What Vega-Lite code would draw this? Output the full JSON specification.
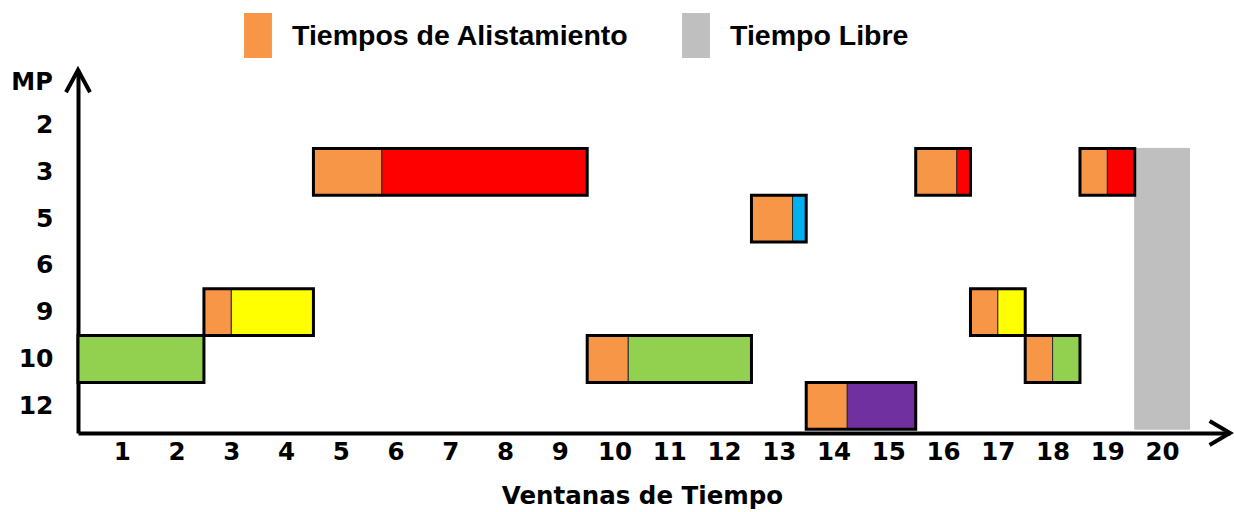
{
  "$schema": "https://vega.github.io/schema/vega-lite/v6.json",
  "autosize": "none",
  "padding": {"left": 78, "top": 70, "right": 4, "bottom": 79},
  "width": 1152,
  "height": 363,
  "background": "white",
  "config": {
    "view": {"stroke": null},
    "axis": {"grid": false}
  },
  "datasets": {
    "tareas": [
      {"tarea": "T1", "mp": "10", "inicio": 0.2, "fin": 2.5, "tipo": "Producto C"},
      {"tarea": "T2", "mp": "9", "inicio": 2.5, "fin": 3.0, "tipo": "Tiempos de Alistamiento"},
      {"tarea": "T2", "mp": "9", "inicio": 3.0, "fin": 4.5, "tipo": "Producto B"},
      {"tarea": "T3", "mp": "3", "inicio": 4.5, "fin": 5.75, "tipo": "Tiempos de Alistamiento"},
      {"tarea": "T3", "mp": "3", "inicio": 5.75, "fin": 9.5, "tipo": "Producto A"},
      {"tarea": "T4", "mp": "10", "inicio": 9.5, "fin": 10.25, "tipo": "Tiempos de Alistamiento"},
      {"tarea": "T4", "mp": "10", "inicio": 10.25, "fin": 12.5, "tipo": "Producto C"},
      {"tarea": "T5", "mp": "5", "inicio": 12.5, "fin": 13.25, "tipo": "Tiempos de Alistamiento"},
      {"tarea": "T5", "mp": "5", "inicio": 13.25, "fin": 13.5, "tipo": "Producto D"},
      {"tarea": "T6", "mp": "12", "inicio": 13.5, "fin": 14.25, "tipo": "Tiempos de Alistamiento"},
      {"tarea": "T6", "mp": "12", "inicio": 14.25, "fin": 15.5, "tipo": "Producto E"},
      {"tarea": "T7", "mp": "3", "inicio": 15.5, "fin": 16.25, "tipo": "Tiempos de Alistamiento"},
      {"tarea": "T7", "mp": "3", "inicio": 16.25, "fin": 16.5, "tipo": "Producto A"},
      {"tarea": "T8", "mp": "9", "inicio": 16.5, "fin": 17.0, "tipo": "Tiempos de Alistamiento"},
      {"tarea": "T8", "mp": "9", "inicio": 17.0, "fin": 17.5, "tipo": "Producto B"},
      {"tarea": "T9", "mp": "10", "inicio": 17.5, "fin": 18.0, "tipo": "Tiempos de Alistamiento"},
      {"tarea": "T9", "mp": "10", "inicio": 18.0, "fin": 18.5, "tipo": "Producto C"},
      {"tarea": "T10", "mp": "3", "inicio": 18.5, "fin": 19.0, "tipo": "Tiempos de Alistamiento"},
      {"tarea": "T10", "mp": "3", "inicio": 19.0, "fin": 19.5, "tipo": "Producto A"}
    ],
    "libre": [
      {"mp": "3", "inicio": 19.5, "fin": 20.5, "tipo": "Tiempo Libre"},
      {"mp": "5", "inicio": 19.5, "fin": 20.5, "tipo": "Tiempo Libre"},
      {"mp": "6", "inicio": 19.5, "fin": 20.5, "tipo": "Tiempo Libre"},
      {"mp": "9", "inicio": 19.5, "fin": 20.5, "tipo": "Tiempo Libre"},
      {"mp": "10", "inicio": 19.5, "fin": 20.5, "tipo": "Tiempo Libre"},
      {"mp": "12", "inicio": 19.5, "fin": 20.5, "tipo": "Tiempo Libre"}
    ]
  },
  "layer": [
    {
      "data": {"name": "libre"},
      "mark": {"type": "bar", "stroke": "#BFBFBF", "strokeWidth": 1},
      "encoding": {
        "y": {
          "field": "mp", "type": "ordinal",
          "scale": {"type": "band", "domain": ["2", "3", "5", "6", "9", "10", "12"], "paddingInner": 0, "paddingOuter": 0.378, "align": 0.893},
          "axis": {
            "title": "MP", "titleAngle": 0, "titleAlign": "center", "titleBaseline": "middle",
            "titleX": -46.5, "titleY": 12,
            "titleFont": "DejaVu Sans", "titleFontWeight": "bold", "titleFontSize": 24, "titleColor": "black",
            "ticks": false, "tickSize": 0,
            "domainColor": "black", "domainWidth": 4,
            "labelFont": "DejaVu Sans", "labelFontWeight": "bold", "labelFontSize": 25, "labelColor": "black",
            "labelPadding": 25
          }
        },
        "x": {
          "field": "inicio", "type": "quantitative",
          "scale": {"domain": [0.2, 21.24], "nice": false, "zero": false},
          "axis": {
            "title": "Ventanas de Tiempo",
            "values": [1, 2, 3, 4, 5, 6, 7, 8, 9, 10, 11, 12, 13, 14, 15, 16, 17, 18, 19, 20],
            "format": "d", "labelFlush": false,
            "ticks": false, "tickSize": 0,
            "domainColor": "black", "domainWidth": 4,
            "labelFont": "DejaVu Sans", "labelFontWeight": "bold", "labelFontSize": 24.5, "labelColor": "black",
            "labelBaseline": "middle", "labelPadding": 19,
            "titleFont": "DejaVu Sans", "titleFontWeight": "bold", "titleFontSize": 24.5, "titleColor": "black",
            "titleX": 564, "titleY": 63, "titleAlign": "center", "titleBaseline": "middle"
          }
        },
        "x2": {"field": "fin"},
        "color": {
          "field": "tipo", "type": "nominal",
          "scale": {
            "domain": ["Tiempos de Alistamiento", "Tiempo Libre", "Producto A", "Producto B", "Producto C", "Producto D", "Producto E"],
            "range": ["#F79646", "#BFBFBF", "#FF0000", "#FFFF00", "#92D050", "#00B0F0", "#7030A0"]
          },
          "legend": {
            "orient": "none", "legendX": 157.5, "legendY": -57,
            "direction": "horizontal", "title": null,
            "values": ["Tiempos de Alistamiento", "Tiempo Libre"],
            "symbolType": "M -0.62 -1 H 0.62 V 1 H -0.62 Z", "symbolSize": 2025,
            "symbolStrokeWidth": 0, "symbolOpacity": 1,
            "labelFont": "Liberation Sans", "labelFontWeight": "bold", "labelFontSize": 28.5, "labelColor": "black",
            "labelOffset": 11.5, "columnPadding": 44, "padding": 0, "labelLimit": 0,
            "encode": {"labels": {"update": {"dy": {"value": 3}}}}
          }
        }
      }
    },
    {
      "data": {"name": "tareas"},
      "mark": {"type": "bar", "stroke": "#2a2a2a", "strokeWidth": 1},
      "encoding": {
        "y": {"field": "mp", "type": "ordinal"},
        "x": {"field": "inicio", "type": "quantitative"},
        "x2": {"field": "fin"},
        "color": {"field": "tipo", "type": "nominal"}
      }
    },
    {
      "data": {"name": "tareas"},
      "transform": [
        {"aggregate": [{"op": "min", "field": "inicio", "as": "inicio"}, {"op": "max", "field": "fin", "as": "fin"}], "groupby": ["tarea", "mp"]}
      ],
      "mark": {"type": "bar", "fill": "transparent", "stroke": "black", "strokeWidth": 3},
      "encoding": {
        "y": {"field": "mp", "type": "ordinal"},
        "x": {"field": "inicio", "type": "quantitative"},
        "x2": {"field": "fin"}
      }
    },
    {
      "data": {"values": [{"eje": "y"}]},
      "mark": {"type": "point", "shape": "M -1 1.85 L 0 0 L 1 1.85", "filled": false, "stroke": "black", "strokeWidth": 4, "size": 576, "opacity": 1},
      "encoding": {
        "x": {"value": 0},
        "y": {"value": 0}
      }
    },
    {
      "data": {"values": [{"eje": "x"}]},
      "mark": {"type": "point", "shape": "M -1.7 -1 L 0 0 L -1.7 1", "filled": false, "stroke": "black", "strokeWidth": 4, "size": 576, "opacity": 1},
      "encoding": {
        "x": {"value": {"expr": "width"}},
        "y": {"value": {"expr": "height"}}
      }
    }
  ]
}
